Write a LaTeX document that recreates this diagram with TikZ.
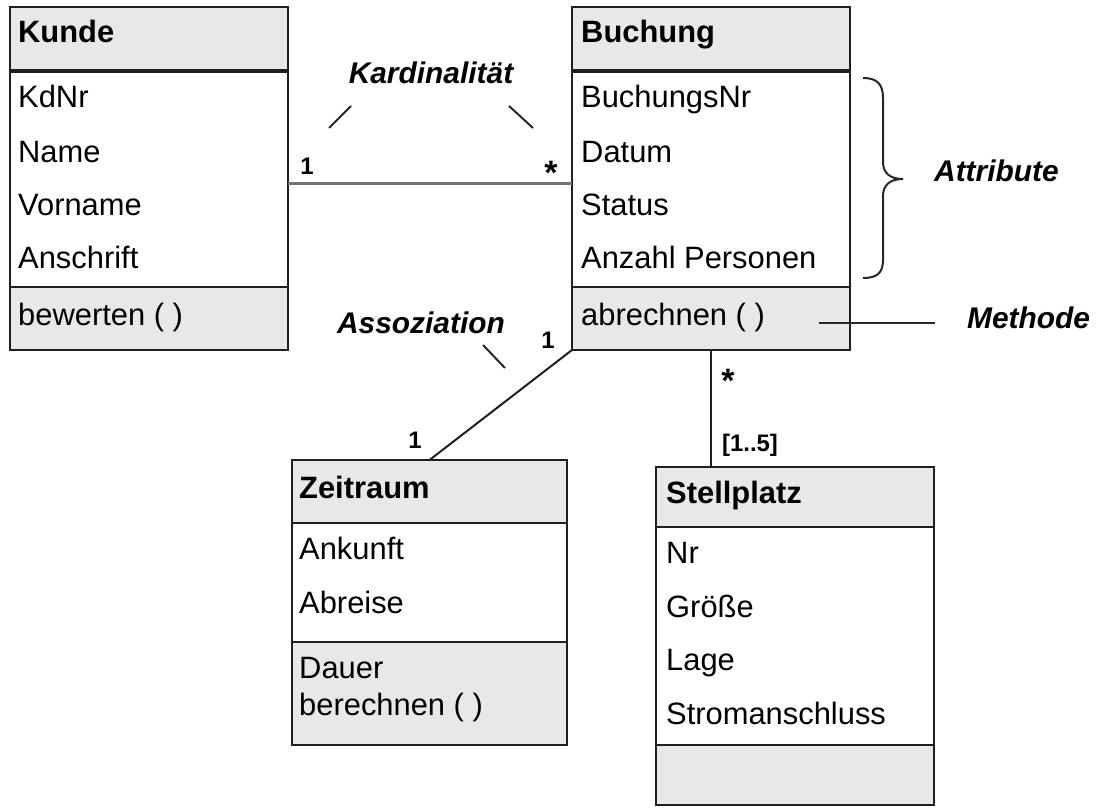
\documentclass[tikz,border=0pt]{standalone}
\usepackage{fontspec}
\setmainfont{Liberation Sans}

\begin{document}
\begin{tikzpicture}[x=1bp, y=-1bp,
  box/.style={draw=black!88, line width=2bp, fill=white, inner sep=0pt, outer sep=0pt, anchor=north west},
  shaded/.style={box, fill=black!9},
  item/.style={anchor=base west, inner sep=0pt, font=\fontsize{31}{37}\selectfont},
  title/.style={item, font=\fontsize{31}{37}\selectfont\bfseries},
  mult/.style={anchor=base, inner sep=0pt, font=\fontsize{24}{28}\selectfont\bfseries},
  star/.style={anchor=base, inner sep=0pt, font=\fontsize{34}{40}\selectfont\bfseries},
  note/.style={anchor=base, inner sep=0pt, font=\fontsize{30}{35}\selectfont\bfseries\itshape},
  link/.style={line width=2bp, draw=black!88},
  grayline/.style={line width=3bp, draw=black!55},
  pointer/.style={line width=2bp, draw=black!85}
]
\useasboundingbox (0,0) rectangle (1100,808);

% ---------- class Kunde ----------
\node[shaded, minimum width=278bp, minimum height=64bp]  (khead) at (10,7)   {};
\node[box,    minimum width=278bp, minimum height=216bp] (kattr) at (10,71)  {};
\node[shaded, minimum width=278bp, minimum height=63bp]  (kmeth) at (10,287) {};
\draw[line width=4bp, draw=black!88] (khead.south west) -- (khead.south east);
\node[title] (kname) at (18,43)  {Kunde};
\node[item]  (ka1)   at (18,108) {KdNr};
\node[item]  (ka2)   at (18,162) {Name};
\node[item]  (ka3)   at (18,215) {Vorname};
\node[item]  (ka4)   at (18,268) {Anschrift};
\node[item]  (km1)   at (18,325) {bewerten ( )};

% ---------- class Buchung ----------
\node[shaded, minimum width=278bp, minimum height=64bp]  (bhead) at (572,7)   {};
\node[box,    minimum width=278bp, minimum height=216bp] (battr) at (572,71)  {};
\node[shaded, minimum width=278bp, minimum height=63bp]  (bmeth) at (572,287) {};
\draw[line width=4bp, draw=black!88] (bhead.south west) -- (bhead.south east);
\node[title] (bname) at (581,43)  {Buchung};
\node[item]  (ba1)   at (581,108) {BuchungsNr};
\node[item]  (ba2)   at (581,162) {Datum};
\node[item]  (ba3)   at (581,215) {Status};
\node[item]  (ba4)   at (581,268) {Anzahl Personen};
\node[item]  (bm1)   at (581,325) {abrechnen ( )};

% ---------- class Zeitraum ----------
\node[shaded, minimum width=275bp, minimum height=63bp]  (zhead) at (292,460) {};
\node[box,    minimum width=275bp, minimum height=119bp] (zattr) at (292,523) {};
\node[shaded, minimum width=275bp, minimum height=103bp] (zmeth) at (292,642) {};
\node[title] (zname) at (299,498) {Zeitraum};
\node[item]  (za1)   at (299,559) {Ankunft};
\node[item]  (za2)   at (299,613) {Abreise};
\node[item]  (zm1)   at (299,678) {Dauer};
\node[item]  (zm2)   at (299,715) {berechnen ( )};

% ---------- class Stellplatz ----------
\node[shaded, minimum width=278bp, minimum height=60bp]  (shead) at (656,467) {};
\node[box,    minimum width=278bp, minimum height=218bp] (sattr) at (656,527) {};
\node[shaded, minimum width=278bp, minimum height=60bp]  (smeth) at (656,745) {};
\node[title] (sname) at (666,503) {Stellplatz};
\node[item]  (sa1)   at (666,563) {Nr};
\node[item]  (sa2)   at (666,617) {Größe};
\node[item]  (sa3)   at (666,670) {Lage};
\node[item]  (sa4)   at (666,724) {Stromanschluss};

% ---------- associations ----------
\draw[grayline] ([yshift=-4bp]kattr.east) -- ([yshift=-4bp]battr.west);
\draw[link] (bmeth.south west) -- (zhead.north);
\draw[link] (bmeth.south) -- (bmeth.south |- shead.north);

% ---------- multiplicities ----------
\node[mult] (m1) at (307,174) {1};
\node[star] (m2) at (551,184) {*};
\node[mult] (m3) at (548,348) {1};
\node[mult] (m4) at (415,448) {1};
\node[star] (m5) at (728,392) {*};
\node[mult] (m6) at (750,451) {[1..5]};

% ---------- annotations ----------
\node[note] (kard)  at (431,84)  {Kardinalität};
\node[note] (assoz) at (421,333) {Assoziation};
\node[note, anchor=base west] (attr) at (934,181) {Attribute};
\node[note, anchor=base west] (meth) at (967,328) {Methode};

\coordinate (kp1) at (329,128); \coordinate (kp2) at (351,106);
\coordinate (kp3) at (509,106); \coordinate (kp4) at (533,128);
\coordinate (ap1) at (483,345); \coordinate (ap2) at (505,368);
\coordinate (mp1) at (819,323); \coordinate (mp2) at (935,323);
\draw[pointer] (kp1) -- (kp2);
\draw[pointer] (kp3) -- (kp4);
\draw[pointer] (ap1) -- (ap2);
\draw[pointer] (mp1) -- (mp2);

% curly brace grouping the attributes
\draw[pointer] (863,78) .. controls (877,78) and (883,84) .. (883,98)
  -- (883,162) .. controls (883,173) and (890,179) .. (903,179)
  .. controls (890,179) and (883,185) .. (883,196)
  -- (883,260) .. controls (883,273) and (877,278) .. (863,278);
\end{tikzpicture}
\end{document}
